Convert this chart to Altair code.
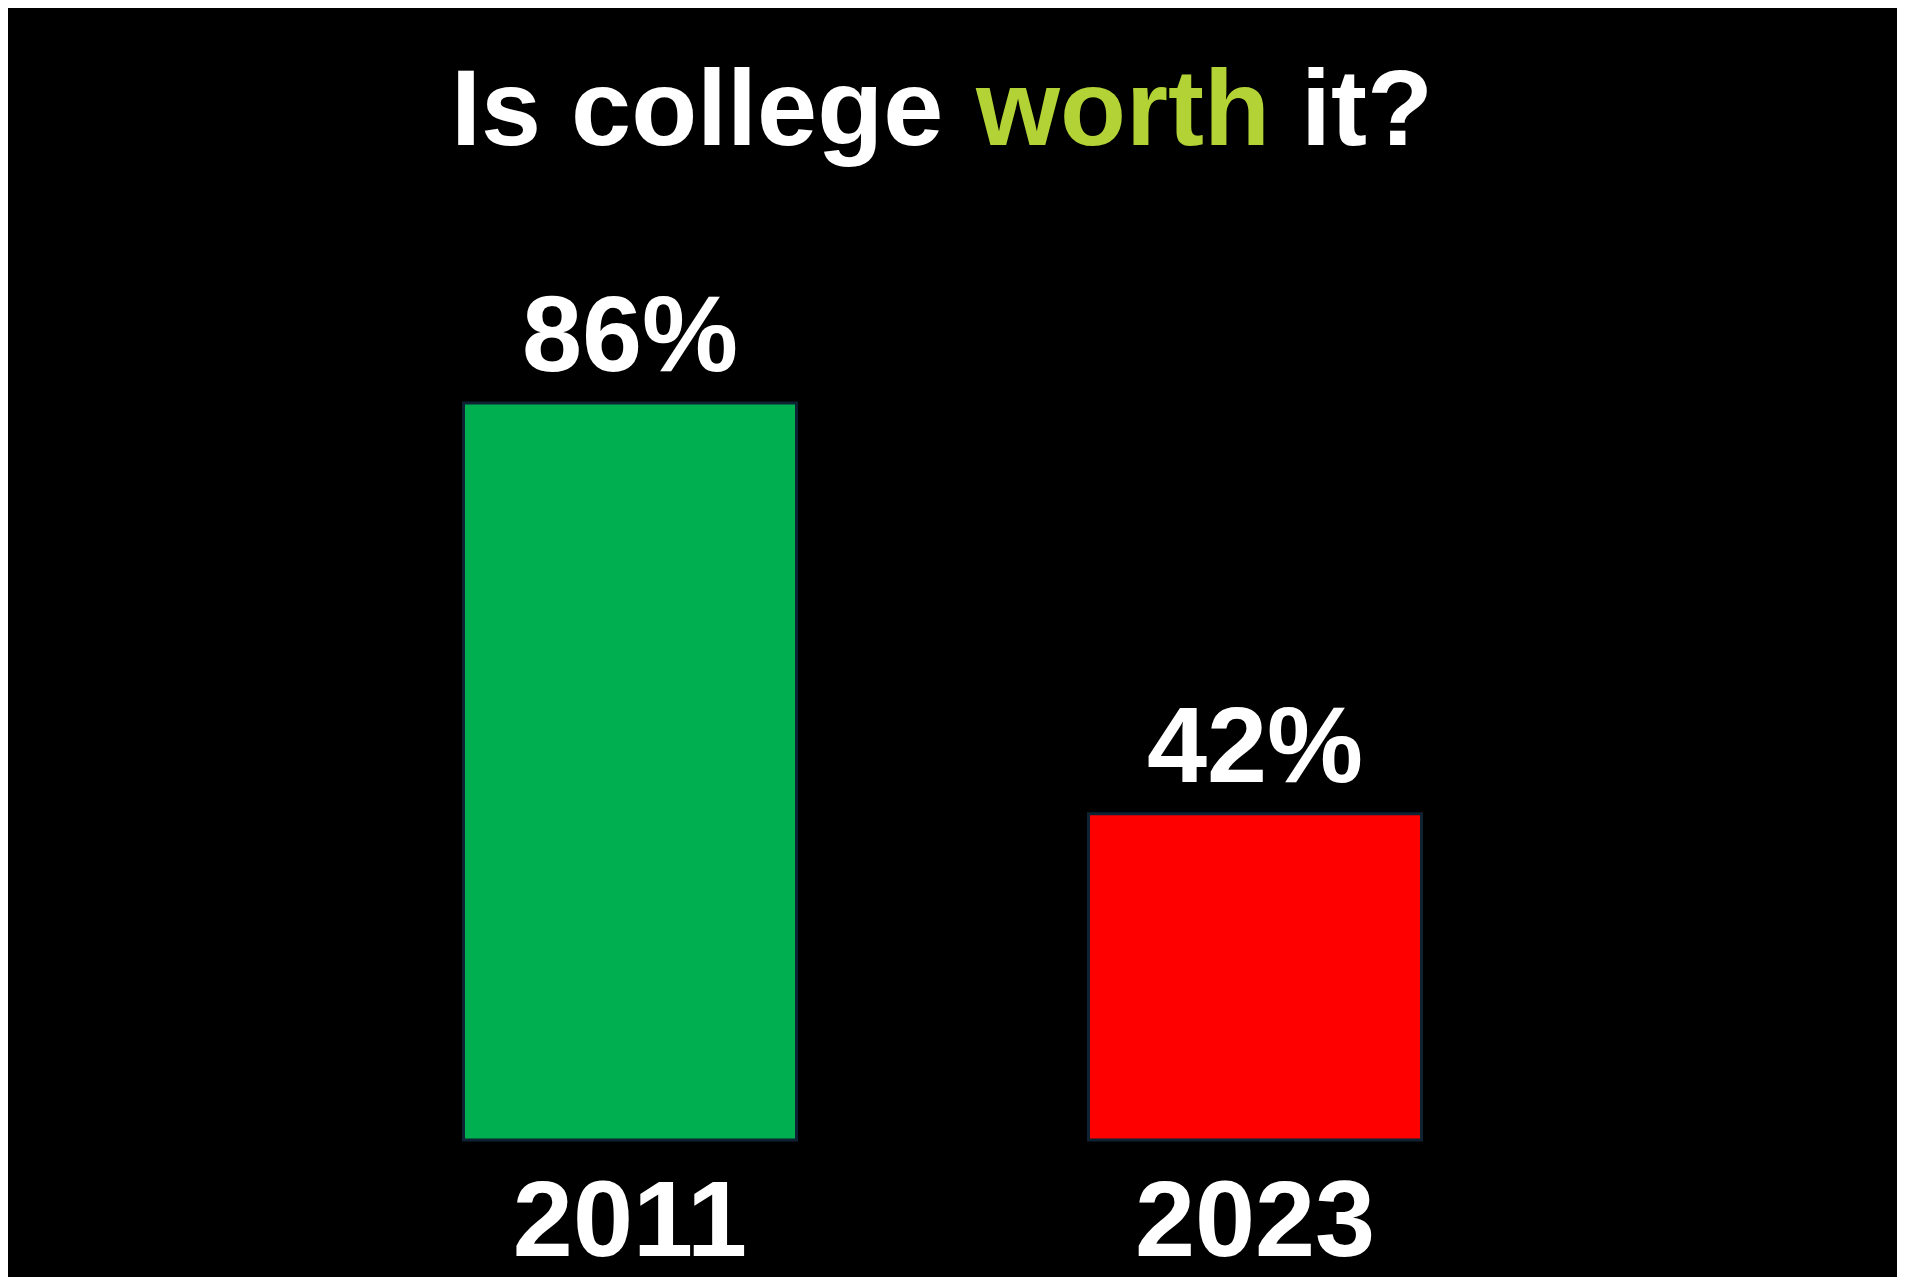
import altair as alt
import pandas as pd

years = ["2011", "2023"]
values = [86, 42]
labels = ["86%", "42%"]
bar_colors = ["#00B050", "#FF0000"]

title_parts = ["Is college", "worth", "it?"]
title_colors = ["#FFFFFF", "#B2D235", "#FFFFFF"]
title_x = [443, 968, 1293]

FONT = "Liberation Sans"
BASE = 7.06

df = pd.DataFrame({"year": years, "value": values, "label": labels, "color": bar_colors})

W, H = 1869, 1132

x_enc = alt.X(
    "year:N",
    sort=years,
    scale=alt.Scale(paddingInner=0.4672, paddingOuter=0.7288),
    axis=alt.Axis(
        title=None, labelAngle=0, labelFont=FONT, labelFontSize=108,
        labelFontWeight="bold", labelColor="white", labelBaseline="alphabetic",
        labelPadding=115, labelLimit=0, ticks=False, tickSize=0, domain=False, grid=False,
    ),
)
y_enc = alt.Y("value:Q", scale=alt.Scale(domain=[BASE, 128.3], zero=False, nice=False), axis=None)

bars = alt.Chart(df).mark_bar(stroke="#0E2233", strokeWidth=3).encode(
    x=x_enc,
    y=y_enc,
    y2=alt.datum(BASE),
    color=alt.Color("color:N", scale=None),
)

value_text = alt.Chart(df).mark_text(
    font=FONT, fontSize=108, fontWeight="bold", color="white",
    baseline="alphabetic", align="center", dy=-31.5,
).encode(x=alt.X("year:N", sort=years), y=y_enc, text="label:N")

layers = [bars, value_text]
for part, col, xp in zip(title_parts, title_colors, title_x):
    layers.append(
        alt.Chart(pd.DataFrame({"t": [part]})).mark_text(
            font=FONT, fontSize=108, fontWeight="bold", color=col,
            align="left", baseline="alphabetic",
        ).encode(x=alt.value(xp), y=alt.value(137), text="t:N")
    )

chart = alt.layer(*layers).properties(
    width=W, height=H, background="black",
    padding={"left": 0, "top": 0, "right": 20, "bottom": 0},
).configure_view(strokeWidth=0)

chart.save("out.html", embed_options={"renderer": "svg", "actions": False})
